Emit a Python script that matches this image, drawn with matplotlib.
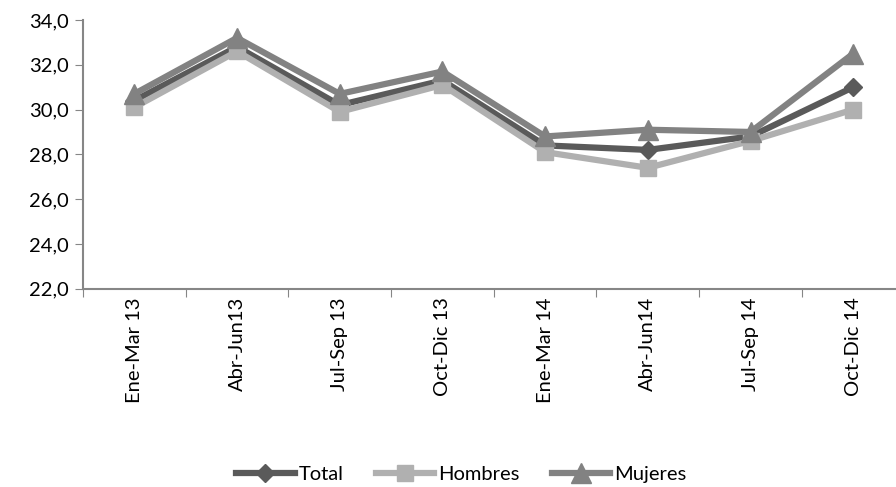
import matplotlib
matplotlib.use("Agg")
from matplotlib import pyplot as plt
from matplotlib.ticker import FuncFormatter

periodos = ["Ene-Mar 13", "Abr-Jun13", "Jul-Sep 13", "Oct-Dic 13",
            "Ene-Mar 14", "Abr-Jun14", "Jul-Sep 14", "Oct-Dic 14"]
total = [30.4, 32.8, 30.2, 31.3, 28.4, 28.2, 28.8, 31.0]
hombres = [30.1, 32.6, 29.9, 31.1, 28.1, 27.4, 28.6, 30.0]
mujeres = [30.7, 33.2, 30.7, 31.7, 28.8, 29.1, 29.0, 32.5]

plt.rcParams['font.family'] = ['Lato', 'DejaVu Sans']


def main():
    fig = plt.figure(figsize=(8.96, 4.87), dpi=100)
    ax = fig.add_axes([0.0926, 0.407, 0.917, 0.552])
    x = list(range(len(periodos)))

    ax.plot(x, total, color='#5a5a5a', lw=4.5, marker='D', ms=9, label='Total')
    ax.plot(x, hombres, color='#b0b0b0', lw=4.5, marker='s', ms=11, label='Hombres')
    ax.plot(x, mujeres, color='#828282', lw=4.5, marker='^', ms=14, label='Mujeres')

    ax.set_xlim(-0.5, len(periodos) - 0.5)
    ax.set_ylim(22, 34)
    ax.set_yticks([22, 24, 26, 28, 30, 32, 34])
    ax.yaxis.set_major_formatter(FuncFormatter(lambda v, p: f"{v:.1f}".replace('.', ',')))
    ax.set_xticks([i - 0.5 for i in range(len(periodos) + 1)], minor=False)
    ax.set_xticklabels([])
    ax.set_xticks(x, minor=True)
    ax.set_xticklabels(periodos, minor=True, rotation=90, fontsize=14.5)
    ax.tick_params(axis='x', which='minor', length=0, pad=6)
    ax.tick_params(axis='x', which='major', length=6, color='#868686', direction='out')
    ax.tick_params(axis='y', length=6, color='#868686', labelsize=14.5, pad=4)

    for s in ['top', 'right']:
        ax.spines[s].set_visible(False)
    for s in ['left', 'bottom']:
        ax.spines[s].set_color('#868686')
        ax.spines[s].set_linewidth(1.5)

    fig.legend(loc='lower center', bbox_to_anchor=(0.515, -0.03), ncol=3, frameon=False,
               fontsize=14.5, handlelength=2.9, handletextpad=0.2, columnspacing=1.6)

    plt.savefig('out.png', dpi=100)


if __name__ == '__main__':
    main()
